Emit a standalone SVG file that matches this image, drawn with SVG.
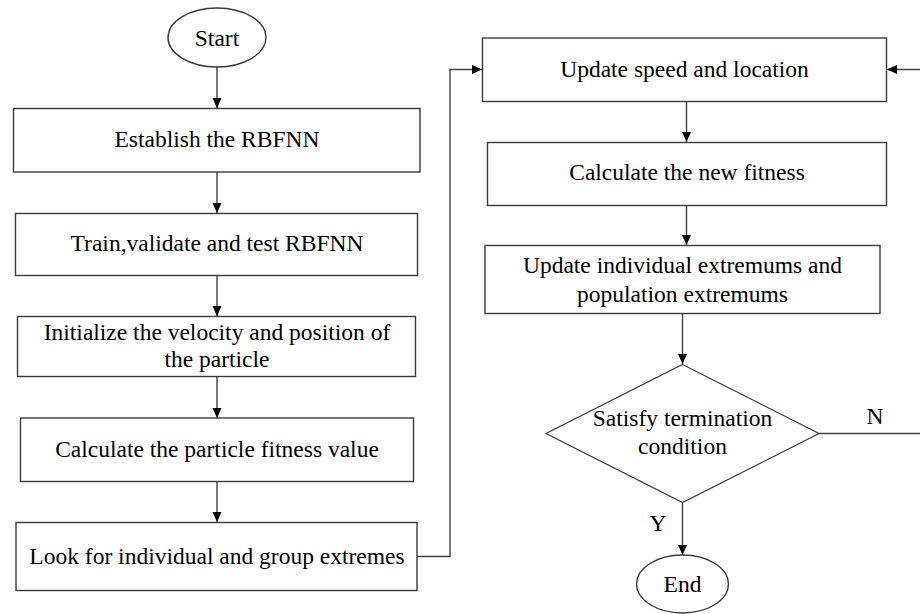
<svg xmlns="http://www.w3.org/2000/svg" width="920" height="614" viewBox="0 0 920 614">
<defs>
<marker id="ah" markerWidth="10" markerHeight="10" viewBox="0 0 10 10" refX="10" refY="5" orient="auto" markerUnits="userSpaceOnUse">
<path d="M0,0.5 L10,5 L0,9.5 Z" fill="#000"/>
</marker>
<style>
.box{fill:#fff;stroke:#3a3a3a;stroke-width:1.4}
.t{font-size:23.5px;fill:#000;text-anchor:middle}
.c{fill:none;stroke:#404040;stroke-width:1.4}
</style>
</defs>
<rect width="920" height="614" fill="#fff"/>
<g font-family="Liberation Serif, Times New Roman, DejaVu Serif, serif">
<g id="connectors">
<line class="c" x1="217" y1="67" x2="217" y2="108" marker-end="url(#ah)"/>
<line class="c" x1="217" y1="172" x2="217" y2="213" marker-end="url(#ah)"/>
<line class="c" x1="217" y1="275" x2="217" y2="316" marker-end="url(#ah)"/>
<line class="c" x1="217" y1="377" x2="217" y2="418" marker-end="url(#ah)"/>
<line class="c" x1="217" y1="482" x2="217" y2="522" marker-end="url(#ah)"/>
<polyline class="c" points="417,556.5 450,556.5 450,69.5 482,69.5" marker-end="url(#ah)"/>
<line class="c" x1="686.5" y1="102" x2="686.5" y2="142" marker-end="url(#ah)"/>
<line class="c" x1="686.5" y1="205" x2="686.5" y2="245" marker-end="url(#ah)"/>
<line class="c" x1="682.5" y1="313" x2="682.5" y2="364" marker-end="url(#ah)"/>
<line class="c" x1="682.5" y1="503" x2="682.5" y2="555" marker-end="url(#ah)"/>
<polyline class="c" points="819,433.5 922,433.5 922,69.5 887,69.5" marker-end="url(#ah)"/>
<text class="t" x="875" y="424">N</text>
<text class="t" x="658" y="531">Y</text>
</g>
<g id="start">
<ellipse class="box" cx="217" cy="37.5" rx="49" ry="29.5"/>
<text class="t" x="217" y="46">Start</text>
</g>
<g id="establish">
<rect class="box" x="13.5" y="108.5" width="406.5" height="63.5"/>
<text class="t" x="217" y="147">Establish the RBFNN</text>
</g>
<g id="train">
<rect class="box" x="15.5" y="213.5" width="402" height="62"/>
<text class="t" x="217" y="251">Train,validate and test RBFNN</text>
</g>
<g id="init">
<rect class="box" x="17.5" y="316.5" width="398" height="60"/>
<text class="t" x="217" y="339.5">Initialize the velocity and position of</text>
<text class="t" x="217" y="366.5">the particle</text>
</g>
<g id="calc">
<rect class="box" x="20.5" y="418" width="393" height="63.5"/>
<text class="t" x="217" y="456.5">Calculate the particle fitness value</text>
</g>
<g id="look">
<rect class="box" x="16" y="522.5" width="401" height="68"/>
<text class="t" x="217" y="563.5">Look for individual and group extremes</text>
</g>
<g id="update">
<rect class="box" x="482.5" y="38" width="404" height="63.5"/>
<text class="t" x="684.5" y="76.5">Update speed and location</text>
</g>
<g id="newfit">
<rect class="box" x="487.5" y="142.5" width="399" height="63"/>
<text class="t" x="687" y="180">Calculate the new fitness</text>
</g>
<g id="extremums">
<rect class="box" x="485" y="245.5" width="395" height="68"/>
<text class="t" x="682.5" y="272.5">Update individual extremums and</text>
<text class="t" x="682.5" y="301.5">population extremums</text>
</g>
<g id="decision">
<polygon class="box" points="682.5,364.5 819,433.5 682.5,502.5 546,433.5" style="stroke-width:1.2"/>
<text class="t" x="682.5" y="426">Satisfy termination</text>
<text class="t" x="682.5" y="454">condition</text>
</g>
<g id="end">
<ellipse class="box" cx="682.5" cy="584" rx="46" ry="29"/>
<text class="t" x="682.5" y="592">End</text>
</g>
</g>
</svg>
